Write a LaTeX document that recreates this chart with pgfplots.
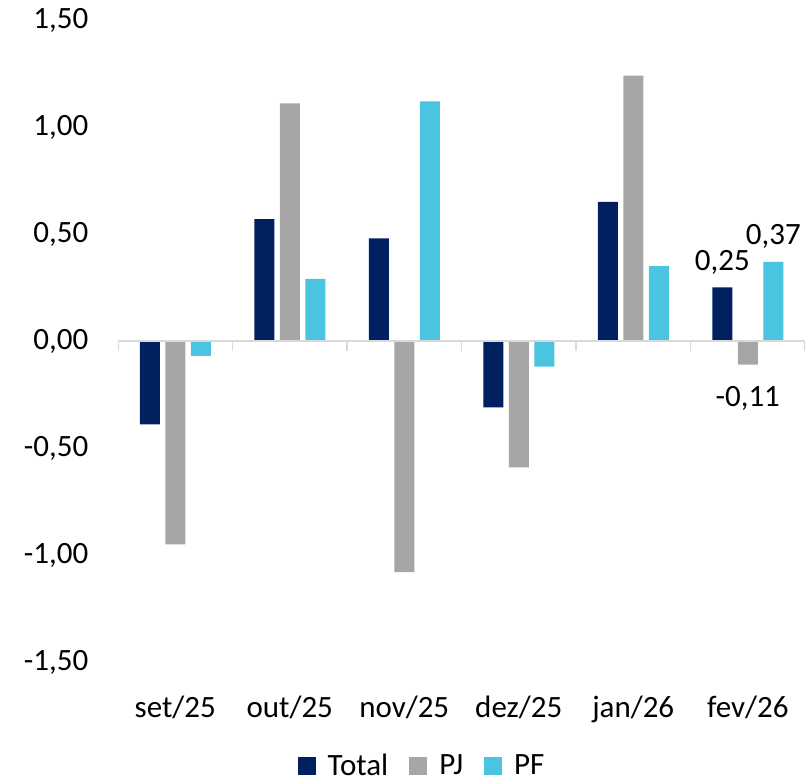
\documentclass[border=0pt]{standalone}
\usepackage{pgfplots}
\pgfplotsset{compat=1.18}
\usepackage{fontspec}
\setmainfont{Carlito}
\definecolor{cTotal}{HTML}{002060}
\definecolor{cPJ}{HTML}{A6A6A6}
\definecolor{cPF}{HTML}{4BC4E1}
\definecolor{axgray}{HTML}{D9D9D9}
\begin{document}
\begin{tikzpicture}
\begin{axis}[
  name=ax,
  scale only axis,
  width=343.5pt, height=321pt,
  xmin=-0.5, xmax=5.5, ymin=-1.5, ymax=1.5,
  enlargelimits=false,
  axis line style={draw=none},
  ybar=2.75pt, bar width=10pt,
  xtick={0,1,2,3,4,5},
  xticklabels={set/25,out/25,nov/25,dez/25,jan/26,fev/26},
  ytick={-1.5,-1,-0.5,0,0.5,1,1.5},
  major tick length=0pt,
  tick style={draw=none},
  font=\fontsize{15.5}{18}\selectfont,
  /pgf/number format/assume math mode=true,
  yticklabel={\pgfmathprintnumber[fixed,fixed zerofill,precision=2,use comma]{\tick}},
  yticklabel style={xshift=-11.3pt},
  xticklabel style={yshift=-13.5pt},
  point meta=explicit symbolic,
  nodes near coords={\pgfplotspointmeta},
  nodes near coords style={font=\fontsize{15.5}{18}\selectfont},
  legend style={at={(0.444,-0.162)}, anchor=center, draw=none, fill=none,
    font=\fontsize{15.5}{18}\selectfont, inner sep=0pt},
  legend columns=-1,
  legend image code/.code={\fill[#1] (0pt,-4.3pt) rectangle (9pt,4.3pt); \path (13pt,0pt);},
  /tikz/every even column/.append style={column sep=8.5pt},
  legend cell align=left,
]
\addplot[fill=cTotal, draw=none, every node near coord/.append style={anchor=south, yshift=3pt}]
  coordinates {(0,-0.39) [{}] (1,0.57) [{}] (2,0.48) [{}] (3,-0.31) [{}] (4,0.65) [{}] (5,0.25) [{0,25}]};
\addplot[fill=cPJ, draw=none, every node near coord/.append style={anchor=north, yshift=-7.5pt}]
  coordinates {(0,-0.95) [{}] (1,1.11) [{}] (2,-1.08) [{}] (3,-0.59) [{}] (4,1.24) [{}] (5,-0.11) [{-0,11}]};
\addplot[fill=cPF, draw=none, every node near coord/.append style={anchor=south, yshift=3pt}]
  coordinates {(0,-0.07) [{}] (1,0.29) [{}] (2,1.12) [{}] (3,-0.12) [{}] (4,0.35) [{}] (5,0.37) [{0,37}]};
\legend{Total,PJ,PF}
\draw[axgray, line width=0.75pt] (axis cs:-0.5,0) -- (axis cs:5.5,0);
\draw[axgray, line width=0.75pt]
  (axis cs:-0.5,0) -- ++(0pt,-5pt)
  (axis cs:0.5,0) -- ++(0pt,-5pt)
  (axis cs:1.5,0) -- ++(0pt,-5pt)
  (axis cs:2.5,0) -- ++(0pt,-5pt)
  (axis cs:3.5,0) -- ++(0pt,-5pt)
  (axis cs:4.5,0) -- ++(0pt,-5pt)
  (axis cs:5.5,0) -- ++(0pt,-5pt);
\end{axis}
\path[use as bounding box] ([shift={(-59pt,-58.5pt)}]ax.south west) rectangle ([shift={(3pt,10pt)}]ax.north east);
\end{tikzpicture}
\end{document}
